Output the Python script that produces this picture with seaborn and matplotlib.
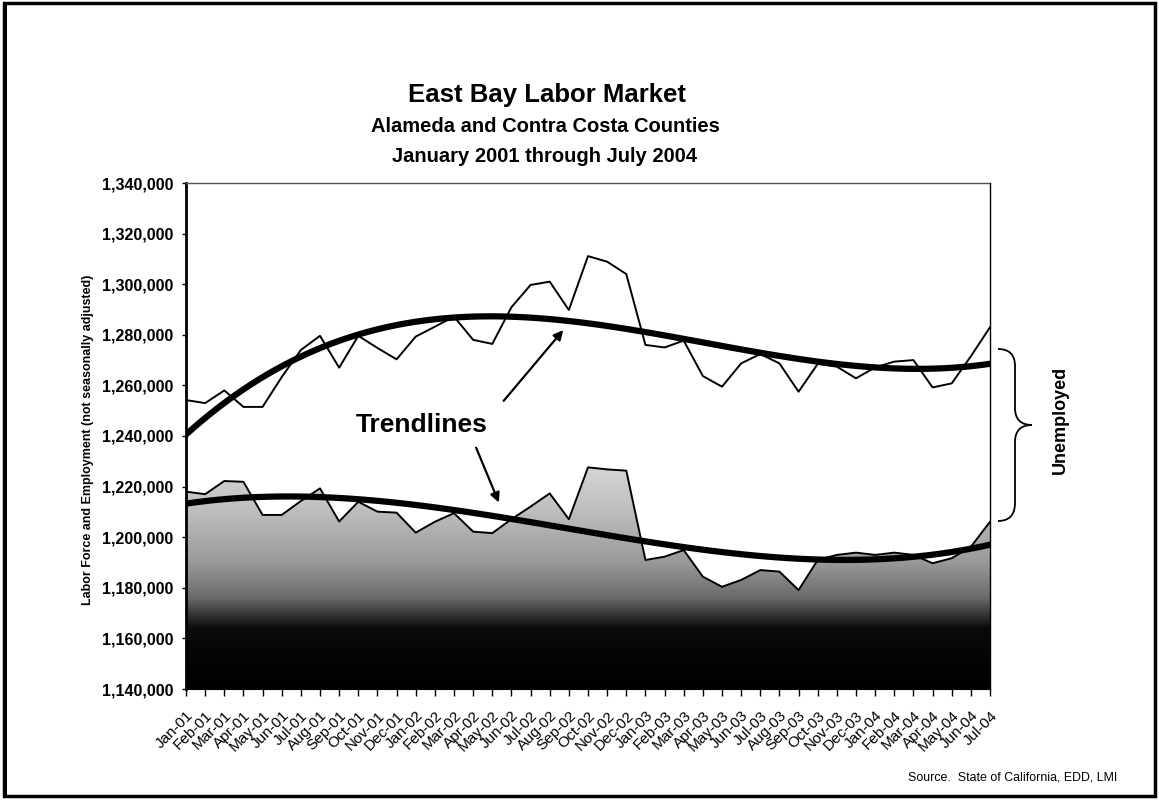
import numpy as np
import pandas as pd
import matplotlib
matplotlib.use("Agg")
import matplotlib.pyplot as plt
import seaborn as sns
from matplotlib.colors import LinearSegmentedColormap
from matplotlib.patches import Rectangle, PathPatch
from matplotlib.path import Path

months = ["Jan-01", "Feb-01", "Mar-01", "Apr-01", "May-01", "Jun-01", "Jul-01", "Aug-01",
          "Sep-01", "Oct-01", "Nov-01", "Dec-01", "Jan-02", "Feb-02", "Mar-02", "Apr-02",
          "May-02", "Jun-02", "Jul-02", "Aug-02", "Sep-02", "Oct-02", "Nov-02", "Dec-02",
          "Jan-03", "Feb-03", "Mar-03", "Apr-03", "May-03", "Jun-03", "Jul-03", "Aug-03",
          "Sep-03", "Oct-03", "Nov-03", "Dec-03", "Jan-04", "Feb-04", "Mar-04", "Apr-04",
          "May-04", "Jun-04", "Jul-04"]

labor_force = [1254200, 1253000, 1258000, 1251500, 1251500, 1263300, 1274000, 1279600,
               1267000, 1279600, 1274800, 1270300, 1279300, 1283200, 1287200, 1278000,
               1276400, 1290900, 1299700, 1301000, 1289800, 1311100, 1308900, 1304000,
               1276000, 1275000, 1277700, 1263700, 1259500, 1268700, 1272400, 1268700,
               1257500, 1268500, 1267400, 1262800, 1267100, 1269400, 1270000, 1259200,
               1260800, 1271500, 1283000]

employment = [1218000, 1217000, 1222200, 1221900, 1208800, 1208800, 1214300, 1219300,
              1206200, 1214000, 1210100, 1209700, 1201800, 1206100, 1209500, 1202200,
              1201600, 1207100, 1212100, 1217300, 1207100, 1227600, 1226800, 1226300,
              1191000, 1192300, 1194900, 1184400, 1180400, 1183100, 1187000, 1186400,
              1179100, 1191000, 1193000, 1193900, 1193000, 1193900, 1193000, 1189700,
              1191700, 1196200, 1206100]

y_ticks = [1140000, 1160000, 1180000, 1200000, 1220000, 1240000, 1260000,
           1280000, 1300000, 1320000, 1340000]

sns.set_theme(style="white")
plt.rcParams["font.family"] = ["Liberation Sans", "DejaVu Sans"]
for k in ["text.color", "axes.labelcolor", "xtick.color", "ytick.color"]:
    plt.rcParams[k] = "black"

W, H = 1159, 800
fig = plt.figure(figsize=(W / 100, H / 100), dpi=100)
fig.patch.set_facecolor("white")


def fx(px):
    return px / W


def fy(py):
    return 1 - py / H


ax = fig.add_axes([fx(186), fy(689), fx(990) - fx(186), fy(183) - fy(689)])

idx = np.arange(len(months))
df = pd.DataFrame({"idx": idx, "month": months,
                   "Labor Force": labor_force, "Employment": employment})

ymin, ymax = y_ticks[0], y_ticks[-1]

# gradient area under employment
poly = ax.fill_between(df["idx"], df["Employment"], ymin, color="none", lw=0)
cmap = LinearSegmentedColormap.from_list(
    "g", [(0, "#000000"), (0.24, "#0a0a0a"), (0.36, "#6a6a6a"),
          (0.5, "#999999"), (0.7, "#bdbdbd"), (1, "#e6e6e6")])
grad = np.linspace(0, 1, 256).reshape(-1, 1)
im = ax.imshow(grad, extent=[0, len(months) - 1, ymin, 1240000], origin="lower",
               aspect="auto", cmap=cmap, zorder=1, interpolation="bilinear")
im.set_clip_path(poly.get_paths()[0], transform=ax.transData)

sns.lineplot(data=df, x="idx", y="Labor Force", color="black", lw=1.4, ax=ax, zorder=3)
sns.lineplot(data=df, x="idx", y="Employment", color="black", lw=1.4, ax=ax, zorder=3)

for col in ["Labor Force", "Employment"]:
    sns.regplot(data=df, x="idx", y=col, order=3, scatter=False, ci=None,
                truncate=True, line_kws=dict(color="black", lw=4.5, zorder=4), ax=ax)

ax.set_xlim(0, len(months) - 1)
ax.set_ylim(ymin, ymax)
ax.set_xlabel("")
ax.set_ylabel("")
ax.set_xticks(idx)
ax.set_xticklabels(months, rotation=45, ha="right", rotation_mode="anchor",
                   fontsize=11)
ax.set_yticks(y_ticks)
ax.set_yticklabels([f"{v:,}" for v in y_ticks], fontsize=11.5, fontweight="bold")
ax.tick_params(axis="x", direction="out", length=5, width=1, color="black",
               bottom=True, pad=9)
ax.tick_params(axis="y", direction="out", length=3, width=1, color="black",
               left=True, pad=6)
ax.grid(False)
ax.spines["left"].set_linewidth(2)
ax.spines["left"].set_color("black")
ax.spines["bottom"].set_linewidth(1.5)
ax.spines["bottom"].set_color("black")
ax.spines["right"].set_linewidth(1)
ax.spines["right"].set_color("black")
ax.spines["top"].set_linewidth(1)
ax.spines["top"].set_color("#555555")
ax.spines["top"].set_linestyle((0, (2, 1)))

# annotations
ax.text(12.3, 1244300, "Trendlines", fontsize=19, fontweight="bold",
        ha="center", va="center", zorder=6)
ax.annotate("", xy=(19.8, 1282700), xytext=(16.5, 1253050),
            arrowprops=dict(arrowstyle="-|>", color="black", lw=1.6,
                            mutation_scale=14), zorder=6)
ax.annotate("", xy=(16.4, 1212700), xytext=(15.1, 1236400),
            arrowprops=dict(arrowstyle="-|>", color="black", lw=1.6,
                            mutation_scale=14), zorder=6)

# titles
fig.text(fx(547), fy(95), "East Bay Labor Market", fontsize=18.5,
         fontweight="bold", ha="center", va="center")
fig.text(fx(545), fy(127), "Alameda and Contra Costa Counties", fontsize=14.5,
         fontweight="bold", ha="center", va="center")
fig.text(fx(545), fy(156), "January 2001 through July 2004", fontsize=14.5,
         fontweight="bold", ha="center", va="center")
fig.text(fx(88), fy(440), "Labor Force and Employment (not seasonally adjusted)",
         fontsize=9, fontweight="bold", rotation=90, ha="center", va="center")
fig.text(fx(1060), fy(420), "Unemployed", fontsize=13, fontweight="bold",
         rotation=90, ha="center", va="center")
fig.text(fx(1117), fy(777), "Source.  State of California, EDD, LMI",
         fontsize=8.9, ha="right", va="center")

# brace
pts = [(998, 349), (1015, 349), (1015, 366), (1015, 408), (1015, 425), (1032, 425),
       (1015, 425), (1015, 442), (1015, 503), (1015, 521), (998, 521)]
codes = [Path.MOVETO, Path.CURVE3, Path.CURVE3, Path.LINETO, Path.CURVE3, Path.CURVE3,
         Path.CURVE3, Path.CURVE3, Path.LINETO, Path.CURVE3, Path.CURVE3]
brace = Path([(fx(a), fy(b)) for a, b in pts], codes)
fig.patches.append(PathPatch(brace, transform=fig.transFigure, fill=False,
                             lw=1.3, edgecolor="black"))

# outer border
fig.patches.append(Rectangle((fx(4), fy(796)), fx(1155) - fx(4), fy(3) - fy(796),
                             transform=fig.transFigure, fill=False, lw=2.5,
                             edgecolor="black"))
fig.patches.append(Rectangle((fx(3), fy(796)), fx(4), fy(3) - fy(796),
                             transform=fig.transFigure, fill=True, lw=0,
                             facecolor="black"))

fig.savefig("out.png", dpi=100)
